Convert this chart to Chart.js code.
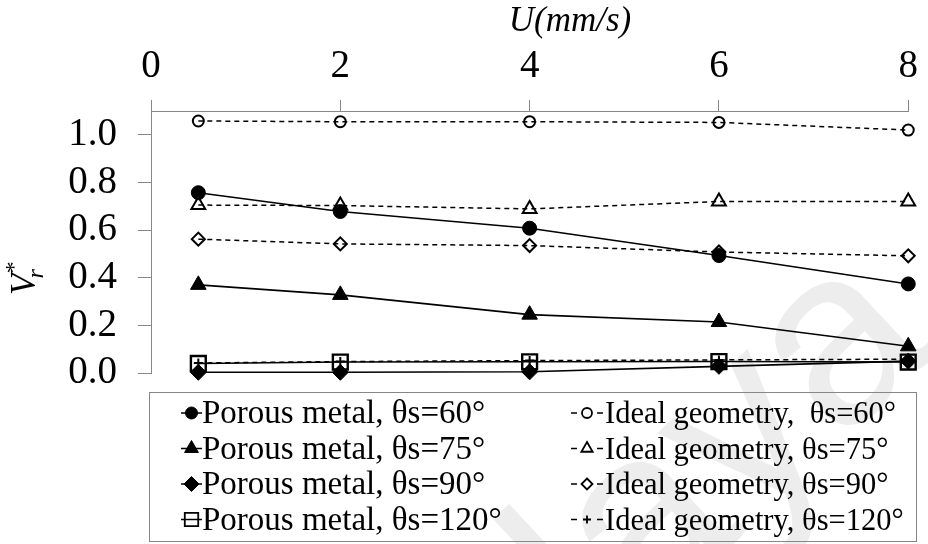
<!DOCTYPE html>
<html>
<head>
<meta charset="utf-8">
<script src="https://cdn.jsdelivr.net/npm/chart.js@4.4.1/dist/chart.umd.min.js"></script>
<style>
  html, body { margin: 0; padding: 0; background: #ffffff; }
  #wrap { width: 928px; height: 544px; position: relative; }
</style>
</head>
<body>
<div id="wrap"><canvas id="chart" width="928" height="544"></canvas></div>
<script>
// Flow speed U (mm/s) at which each run was measured
const speeds = [0.5, 2, 4, 6, 8];
const xTicks = [0, 2, 4, 6, 8];
const yTicks = [0.0, 0.2, 0.4, 0.6, 0.8, 1.0];

// Dimensionless velocity V*r for every surface / contact angle
const porous60  = [0.757, 0.678, 0.608, 0.493, 0.374];
const porous75  = [0.370, 0.328, 0.245, 0.214, 0.112];
const porous90  = [0.003, 0.003, 0.005, 0.028, 0.050];
const porous120 = [0.040, 0.046, 0.047, 0.048, 0.046];
const ideal60   = [1.058, 1.055, 1.055, 1.052, 1.020];
const ideal75   = [0.705, 0.703, 0.689, 0.720, 0.720];
const ideal90   = [0.562, 0.542, 0.535, 0.508, 0.492];
const ideal120  = [0.042, 0.048, 0.052, 0.055, 0.058];

const porousLabels = ['Porous metal, θs=60°', 'Porous metal, θs=75°', 'Porous metal, θs=90°', 'Porous metal, θs=120°'];
const idealLabels  = ['Ideal geometry,  θs=60°', 'Ideal geometry, θs=75°', 'Ideal geometry, θs=90°', 'Ideal geometry, θs=120°'];

const SERIF = '"Liberation Serif", "Times New Roman", serif';
const AXIS_GREY = '#878787';

const toPoints = arr => speeds.map((x, i) => ({ x: x, y: arr[i] }));

function porousSet(label, values, style, radius, filled, legendRadius) {
  return {
    label: label,
    data: toPoints(values),
    borderColor: '#000',
    borderWidth: 1.6,
    pointStyle: style,
    pointRadius: radius,
    pointBackgroundColor: filled ? '#000' : 'rgba(0,0,0,0)',
    pointBorderColor: '#000',
    pointBorderWidth: filled ? 1 : 2.4,
    legendRadius: legendRadius,
    fill: false,
    tension: 0,
    clip: false
  };
}

function idealSet(label, values, style, radius, legendRadius) {
  return {
    label: label,
    data: toPoints(values),
    borderColor: '#000',
    borderWidth: 1.5,
    borderDash: [5, 4],
    pointStyle: style,
    pointRadius: radius,
    pointBackgroundColor: 'rgba(0,0,0,0)',
    pointBorderColor: '#000',
    pointBorderWidth: 2,
    legendRadius: legendRadius,
    fill: false,
    tension: 0,
    clip: false
  };
}

const datasets = [
  porousSet(porousLabels[0], porous60, 'circle', 7, true, 6),
  porousSet(porousLabels[1], porous75, 'triangle', 9, true, 8),
  porousSet(porousLabels[2], porous90, 'rectRot', 8, true, 7.5),
  porousSet(porousLabels[3], porous120, 'rect', 10.5, false, 9.5),
  idealSet(idealLabels[0], ideal60, 'circle', 5.5, 5),
  idealSet(idealLabels[1], ideal75, 'triangle', 8, 6.5),
  idealSet(idealLabels[2], ideal90, 'rectRot', 6.5, 5.5),
  idealSet(idealLabels[3], ideal120, 'cross', 4.5, 4)
];

// Marker shapes for the boxed legend
function drawMarker(ctx, style, x, y, r, fill, lw) {
  ctx.save();
  ctx.setLineDash([]);
  ctx.lineWidth = lw;
  ctx.strokeStyle = '#000';
  ctx.fillStyle = fill;
  ctx.beginPath();
  if (style === 'circle') {
    ctx.arc(x, y, r, 0, Math.PI * 2);
  } else if (style === 'triangle') {
    ctx.moveTo(x, y - r);
    ctx.lineTo(x + r * 0.866, y + r * 0.5);
    ctx.lineTo(x - r * 0.866, y + r * 0.5);
    ctx.closePath();
  } else if (style === 'rectRot') {
    ctx.moveTo(x, y - r);
    ctx.lineTo(x + r, y);
    ctx.lineTo(x, y + r);
    ctx.lineTo(x - r, y);
    ctx.closePath();
  } else if (style === 'rect') {
    const s = r * Math.SQRT1_2;
    ctx.rect(x - s, y - s, 2 * s, 2 * s);
  } else if (style === 'cross') {
    ctx.moveTo(x - r, y); ctx.lineTo(x + r, y);
    ctx.moveTo(x, y - r); ctx.lineTo(x, y + r);
  }
  if (style !== 'cross') ctx.fill();
  ctx.stroke();
  ctx.restore();
}

// Faint repository watermark behind the plot
const watermark = {
  id: 'watermark',
  beforeDraw(chart) {
    const ctx = chart.ctx;
    ctx.save();
    ctx.translate(645, 625);
    ctx.rotate(-0.75);
    ctx.font = '250px "Liberation Sans", Arial, sans-serif';
    ctx.fillStyle = '#ededed';
    ctx.textAlign = 'center';
    ctx.textBaseline = 'alphabetic';
    ctx.fillText('Malaya', 0, 0);
    ctx.restore();
  }
};

// Axis titles placed beside the axes
const axisTitles = {
  id: 'axisTitles',
  afterDraw(chart) {
    const ctx = chart.ctx;
    ctx.save();
    ctx.fillStyle = '#000';
    ctx.textAlign = 'center';
    ctx.textBaseline = 'alphabetic';
    ctx.font = 'italic 35px ' + SERIF;
    ctx.fillText('U(mm/s)', 570, 31);

    // V*r, rotated to read upwards
    ctx.translate(35, 295);
    ctx.rotate(-Math.PI / 2);
    ctx.textAlign = 'left';
    ctx.font = 'italic 35px ' + SERIF;
    ctx.fillText('V', 0, 0);
    const vw = ctx.measureText('V').width;
    ctx.font = 'italic 24px ' + SERIF;
    ctx.fillText('r', vw - 5, 8);
    ctx.fillText('*', vw - 1, -14);
    ctx.restore();
  }
};

// Two-column legend inside a grey frame below the plot
const boxLegend = {
  id: 'boxLegend',
  afterDraw(chart) {
    const ctx = chart.ctx;
    ctx.save();
    ctx.strokeStyle = AXIS_GREY;
    ctx.lineWidth = 1;
    ctx.strokeRect(149.5, 392.5, 767, 149);

    const rowY = [413, 448.5, 484, 519.5];
    chart.data.datasets.forEach((ds, i) => {
      const col = i < 4 ? 0 : 1;
      const y = rowY[i % 4];
      ctx.strokeStyle = '#000';
      ctx.lineWidth = 1.5;
      ctx.setLineDash([]);
      ctx.beginPath();
      if (col === 0) {
        ctx.moveTo(181, y); ctx.lineTo(202, y);
      } else {
        ctx.moveTo(571, y); ctx.lineTo(577, y);
        ctx.moveTo(597, y); ctx.lineTo(603, y);
      }
      ctx.stroke();
      const mx = col === 0 ? 191.5 : 587;
      drawMarker(ctx, ds.pointStyle, mx, y, ds.legendRadius,
                 ds.pointBackgroundColor, col === 0 && ds.pointStyle !== 'rect' ? 1 : 1.8);

      ctx.fillStyle = '#000';
      ctx.textAlign = 'left';
      ctx.textBaseline = 'alphabetic';
      ctx.font = (col === 0 ? '33px ' : '30.5px ') + SERIF;
      ctx.fillText(ds.label, col === 0 ? 202 : 605, y + 10);
    });
    ctx.restore();
  }
};

new Chart(document.getElementById('chart'), {
  type: 'line',
  data: { datasets: datasets },
  plugins: [watermark, axisTitles, boxLegend],
  options: {
    responsive: false,
    animation: false,
    devicePixelRatio: 1,
    layout: { padding: { left: 0, top: 0, right: 17, bottom: 171 } },
    plugins: { legend: { display: false }, tooltip: { enabled: false } },
    scales: {
      x: {
        type: 'linear',
        position: 'top',
        min: 0,
        max: 8,
        afterBuildTicks: s => { s.ticks = xTicks.map(v => ({ value: v })); },
        afterFit: s => { s.height = 111; },
        grid: { drawOnChartArea: false, drawTicks: true, tickLength: 11, color: AXIS_GREY, lineWidth: 1 },
        border: { display: true, color: AXIS_GREY, width: 1 },
        ticks: { font: { family: SERIF, size: 39 }, color: '#000', padding: 10, maxRotation: 0 }
      },
      y: {
        type: 'linear',
        min: 0,
        max: 1.1,
        afterBuildTicks: s => { s.ticks = yTicks.map(v => ({ value: v })); },
        afterFit: s => { s.width = 151; },
        grid: { drawOnChartArea: false, drawTicks: true, tickLength: 13, color: AXIS_GREY, lineWidth: 1 },
        border: { display: true, color: AXIS_GREY, width: 1 },
        ticks: { font: { family: SERIF, size: 39 }, color: '#000', padding: 21,
                 callback: v => Number(v).toFixed(1) }
      }
    }
  }
});
</script>
</body>
</html>
